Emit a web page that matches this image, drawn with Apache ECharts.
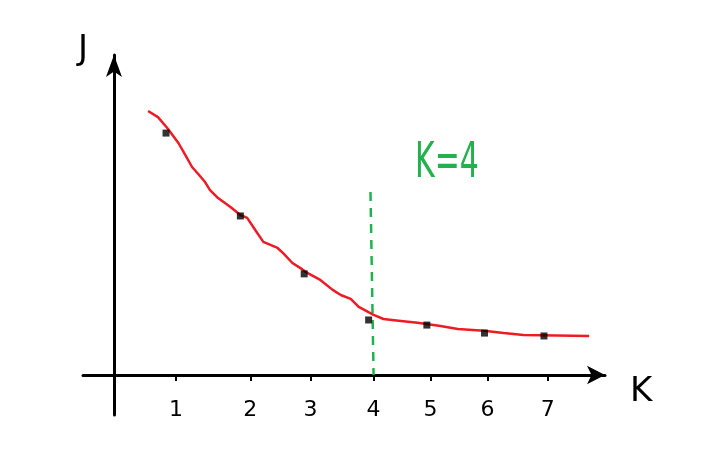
<!DOCTYPE html>
<html>
<head>
<meta charset="utf-8">
<script src="https://cdn.jsdelivr.net/npm/echarts@6/dist/echarts.min.js"></script>
<style>html,body{margin:0;padding:0;background:#fff;}#c{width:702px;height:470px;}</style>
</head>
<body>
<div id="c"></div>
<script>
// Tick positions (hand-drawn, slightly uneven) and labels
var tickPos = [1.0, 2.2, 3.17, 4.19, 5.11, 6.03, 7.0];
var tickLabels = ['1', '2', '3', '4', '5', '6', '7'];
// Measured points (k, J)
var pointK = [0.84, 2.04, 3.07, 4.11, 5.05, 5.98, 6.94];
var pointJ = [7.56, 4.97, 3.16, 1.72, 1.56, 1.31, 1.22];
// Hand-drawn red curve
var curveK = [0.55, 0.71, 0.86, 1.04, 1.15, 1.26, 1.36, 1.47, 1.55, 1.68, 1.88, 2.04, 2.15, 2.28, 2.41, 2.64, 2.73, 2.88, 3.01, 3.12, 3.33, 3.53, 3.66, 3.82, 3.95, 4.19, 4.35, 4.63, 4.9, 5.27, 5.55, 5.97, 6.29, 6.61, 7.67];
var curveJ = [8.25, 8.06, 7.72, 7.25, 6.88, 6.5, 6.28, 6.03, 5.78, 5.53, 5.25, 5.0, 4.91, 4.53, 4.16, 3.97, 3.81, 3.5, 3.34, 3.19, 2.97, 2.66, 2.5, 2.38, 2.13, 1.88, 1.75, 1.69, 1.63, 1.53, 1.44, 1.38, 1.31, 1.25, 1.22];
// Elbow marker line
var elbowK = [4.14, 4.19];
var elbowJ = [5.72, 0];
var elbowText = 'K=4';

var chart = echarts.init(document.getElementById('c'));
var font = 'DejaVu Sans';
chart.setOption({
  animation: false,
  backgroundColor: '#ffffff',
  grid: {left: 83, right: 97, top: 55, bottom: 55, containLabel: false},
  xAxis: {
    type: 'value', min: -0.5, max: 7.925,
    name: 'K', nameLocation: 'end', nameGap: 25,
    nameTextStyle: {fontFamily: font, fontSize: 34, color: '#000', verticalAlign: 'top'},
    axisLine: {onZero: true, lineStyle: {color: '#000', width: 3}, symbol: ['none', 'arrow'], symbolSize: [14, 18]},
    axisTick: {show: true, inside: false, length: 6, customValues: tickPos, lineStyle: {color: '#000', width: 2}},
    axisLabel: {customValues: tickPos, margin: -16, fontFamily: font, fontSize: 22, color: '#000',
      formatter: function (v) { for (var i = 0; i < tickPos.length; i++) { if (Math.abs(tickPos[i] - v) < 1e-6) return tickLabels[i]; } return ''; }},
    splitLine: {show: false}
  },
  yAxis: {
    type: 'value', min: -1.25, max: 10,
    name: 'J', nameLocation: 'end', nameGap: -12,
    nameTextStyle: {fontFamily: font, fontSize: 34, color: '#000', align: 'right', verticalAlign: 'bottom', padding: [0, 26, 0, 0]},
    axisLine: {onZero: true, lineStyle: {color: '#000', width: 3}, symbol: ['none', 'arrow'], symbolSize: [12, 22]},
    axisTick: {show: false},
    axisLabel: {show: false},
    splitLine: {show: false}
  },
  series: [
    {
      type: 'line', data: curveK.map(function (k, i) { return [k, curveJ[i]]; }),
      showSymbol: false, smooth: false, lineStyle: {color: '#ed1c24', width: 2.5}, z: 3
    },
    {
      type: 'scatter', data: pointK.map(function (k, i) { return [k, pointJ[i]]; }),
      symbol: 'rect', symbolSize: 7, itemStyle: {color: '#000'}, z: 4
    },
    {
      type: 'line', data: elbowK.map(function (k, i) { return [k, elbowJ[i]]; }),
      showSymbol: false, lineStyle: {color: '#22b14c', width: 2.5, type: [9, 7]}, z: 2
    }
  ],
  graphic: [
    {type: 'text', x: 415, y: 139, scaleX: 0.6, style: {text: elbowText, fontFamily: font, fontSize: 50, fill: '#22b14c'}}
  ]
});
</script>
</body>
</html>
